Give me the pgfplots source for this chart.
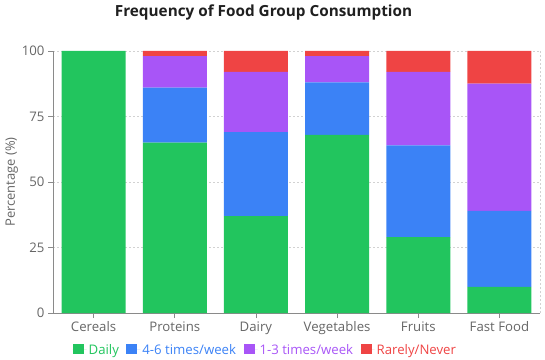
\documentclass[border=0pt]{standalone}
\usepackage{fontspec}
\setmainfont{Open Sans}
\usepackage{pgfplots}
\pgfplotsset{compat=1.18}
\definecolor{cgreen}{HTML}{22C55E}
\definecolor{cblue}{HTML}{3B82F6}
\definecolor{cpurple}{HTML}{A855F7}
\definecolor{cred}{HTML}{EF4444}
\definecolor{tickgray}{HTML}{666666}
\definecolor{axgray}{HTML}{8A8A8A}
\begin{document}
\begin{tikzpicture}
\useasboundingbox (-53pt,-46pt) rectangle (492pt,313pt);
\begin{axis}[
  scale only axis, width=487pt, height=262pt,
  ybar stacked, bar width=64pt,
  xmin=-0.5, xmax=5.5, ymin=0, ymax=100,
  xtick={0,1,2,3,4,5},
  xticklabels={Cereals,Proteins,Dairy,Vegetables,Fruits,Fast Food},
  ytick={0,25,50,75,100},
  axis x line*=bottom, axis y line*=left,
  axis line style={axgray, line width=0.8pt},
  tick align=outside, major tick length=5pt,
  tick style={axgray, line width=0.8pt},
  ymajorgrids, major grid style={gray!35, dash pattern=on 2pt off 2pt, line width=0.6pt},
  extra x ticks={5.5}, extra x tick labels={},
  extra x tick style={grid=major, major tick length=0pt},
  ticklabel style={font=\fontsize{13.2}{15}\selectfont, text=tickgray},
  /pgf/number format/assume math mode=true,
  ylabel={Percentage (\%)},
  ylabel style={font=\fontsize{13}{15}\selectfont, text=tickgray, yshift=-3pt},
  legend columns=4,
  legend style={draw=none, fill=none, at={(rel axis cs:0.436,-0.141)}, anchor=center,
    font=\fontsize{13.2}{15}\selectfont, /tikz/every even column/.append style={column sep=5.5pt}},
  legend image code/.code={\fill[#1,draw=none] (0pt,-4.5pt) rectangle (11pt,6pt); \path (0pt,0pt) -- (14pt,0pt);},
]
\addplot+[fill=cgreen, draw=none] coordinates {(0,100) (1,65) (2,37) (3,68) (4,29) (5,10)};
\addplot+[fill=cblue, draw=none] coordinates {(0,0) (1,21) (2,32) (3,20) (4,35) (5,29)};
\addplot+[fill=cpurple, draw=none] coordinates {(0,0) (1,12) (2,23) (3,10) (4,28) (5,48.5)};
\addplot+[fill=cred, draw=none] coordinates {(0,0) (1,2) (2,8) (3,2) (4,8) (5,12.5)};
\legend{\textcolor{cgreen}{Daily},\textcolor{cblue}{4-6 times/week},\textcolor{cpurple}{1-3 times/week},\textcolor{cred}{Rarely/Never}}
\end{axis}
\node[font=\bfseries\fontsize{15.3}{18}\selectfont, text=black!88] at (210.5pt,301pt) {Frequency of Food Group Consumption};
\end{tikzpicture}
\end{document}
